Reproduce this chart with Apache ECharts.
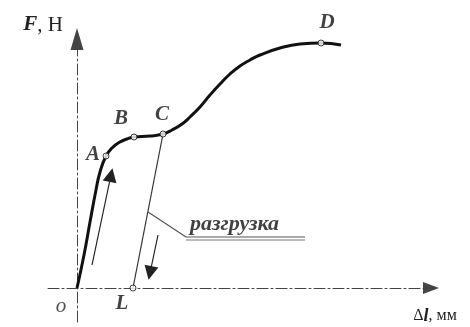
<!DOCTYPE html>
<html><head><meta charset="utf-8">
<script src="https://cdn.jsdelivr.net/npm/echarts@6/dist/echarts.min.js"></script>
<style>html,body{margin:0;padding:0;background:#fff}#c{width:470px;height:327px}</style>
</head><body><div id="c"></div>
<script>
// loading curve F(Δl)
const curveDl = [0, 0.7, 1.3, 1.9, 2.3, 2.9, 3.5, 4.3, 5.0, 5.7, 7.3, 8.6, 9.5, 10.5, 11.3, 12.3, 13.3, 14.3, 15.3, 16.3, 17.3, 18.3, 20.3, 22.3, 24.4, 26.4];
const curveF  = [0, 3.3, 6.6, 9.8, 11.6, 13.2, 14.0, 14.6, 14.9, 15.1, 15.2, 15.4, 15.8, 16.4, 17.1, 18.1, 19.3, 20.4, 21.4, 22.2, 22.8, 23.3, 24.0, 24.4, 24.5, 24.3];
// characteristic points
const pointNames = ['A', 'B', 'C', 'D', 'L'];
const pointDl = [2.9, 5.7, 8.6, 24.4, 5.6];
const pointF  = [13.2, 15.1, 15.4, 24.5, 0];
// unloading line C -> L
const unloadDl = [8.6, 5.6];
const unloadF  = [15.4, 0];
// direction arrows
const loadArrowDl = [1.5, 3.4];
const loadArrowF  = [2.3, 11.3];
const unloadArrowDl = [8.1, 7.3];
const unloadArrowF  = [5.3, 1.5];
// leader for the caption
const leaderDl = [7.1, 10.9, 22.8];
const leaderF  = [7.6, 5.1, 5.1];
const underlineDl = [10.9, 22.8];
const underlineF  = [4.8, 4.8];
const captionText = 'разгрузка';
const originName = 'o';
const xRange = [-2.9, 35.4];
const yRange = [-3.4, 24.9];

const zip = (a, b) => a.map((v, i) => [v, b[i]]);
const serif = "'Liberation Serif', 'DejaVu Serif', serif";
const labelOffsets = { A: [-13, -1], B: [-13, -18], C: [-1, -19], D: [6, -20], L: [-11, 16] };

const axisDash = { color: '#444', width: 1, type: [11, 3, 2, 3] };

const chart = echarts.init(document.getElementById('c'), null, { renderer: 'canvas' });
chart.setOption({
  backgroundColor: '#fff',
  animation: false,
  grid: { left: 48, right: 39, top: 39, bottom: 5 },
  xAxis: {
    type: 'value', min: xRange[0], max: xRange[1],
    axisLine: { onZero: true, lineStyle: axisDash, symbol: ['none', 'triangle'], symbolSize: [12, 16] },
    axisTick: { show: false }, axisLabel: { show: false }, splitLine: { show: false },
    name: '{n|Δ}{i|l}{n|, мм}', nameLocation: 'end', nameGap: 4,
    nameTextStyle: {
      align: 'center', verticalAlign: 'top', padding: [19, 0, 0, 0],
      rich: {
        n: { fontFamily: serif, fontSize: 16, color: '#222' },
        i: { fontFamily: serif, fontSize: 18, fontStyle: 'italic', fontWeight: 'bold', color: '#222' }
      }
    }
  },
  yAxis: {
    type: 'value', min: yRange[0], max: yRange[1],
    axisLine: { onZero: true, lineStyle: axisDash, symbol: ['none', 'triangle'], symbolSize: [13, 22] },
    axisTick: { show: false }, axisLabel: { show: false }, splitLine: { show: false },
    name: '{i|F}{n|, Н}', nameLocation: 'end', nameGap: 14,
    nameTextStyle: {
      align: 'right', verticalAlign: 'middle', padding: [0, 14, 0, 0],
      rich: {
        n: { fontFamily: serif, fontSize: 21, color: '#222' },
        i: { fontFamily: serif, fontSize: 21, fontStyle: 'italic', fontWeight: 'bold', color: '#222' }
      }
    }
  },
  series: [
    {
      type: 'line', data: zip(unloadDl, unloadF), showSymbol: false, silent: true,
      lineStyle: { color: '#333', width: 1.2 }, z: 2
    },
    {
      type: 'line', data: zip(leaderDl, leaderF), showSymbol: false, silent: true,
      lineStyle: { color: '#555', width: 1.2 }, z: 2
    },
    {
      type: 'line', data: zip(underlineDl, underlineF), showSymbol: false, silent: true,
      lineStyle: { color: '#777', width: 1.2 }, z: 2
    },
    {
      type: 'lines', coordinateSystem: 'cartesian2d', silent: true,
      symbol: ['none', 'triangle'], symbolSize: [9, 14],
      lineStyle: { color: '#222', width: 1.2, opacity: 1 },
      data: [
        { coords: zip(loadArrowDl, loadArrowF) },
        { coords: zip(unloadArrowDl, unloadArrowF) }
      ], z: 3
    },
    {
      type: 'line', data: zip(curveDl, curveF), smooth: 0.5,
      showSymbol: false, silent: true, clip: false,
      lineStyle: { color: '#111', width: 3 }, z: 4
    },
    {
      type: 'scatter', silent: true, z: 5,
      symbol: 'circle', symbolSize: 6,
      itemStyle: { color: '#fff', borderColor: '#111', borderWidth: 1 },
      data: pointNames.map((n, i) => ({
        name: n, value: [pointDl[i], pointF[i]],
        label: { show: true, position: 'inside', offset: labelOffsets[n], formatter: n }
      })),
      label: { fontFamily: serif, fontSize: 21, fontStyle: 'italic', fontWeight: 'bold', color: '#111' }
    },
    {
      type: 'scatter', silent: true, z: 5, symbolSize: 0,
      data: [
        { value: [0, 0], label: { show: true, position: 'inside', offset: [-16, 18], formatter: originName,
          fontFamily: serif, fontSize: 21, fontStyle: 'italic', color: '#222' } },
        { value: [underlineDl[0], leaderF[1]], label: { show: true, position: 'inside', align: 'left', verticalAlign: 'bottom',
          offset: [4, -2], formatter: captionText,
          fontFamily: serif, fontSize: 22, fontStyle: 'italic', fontWeight: 'bold', color: '#111' } }
      ]
    }
  ]
});
</script></body></html>
